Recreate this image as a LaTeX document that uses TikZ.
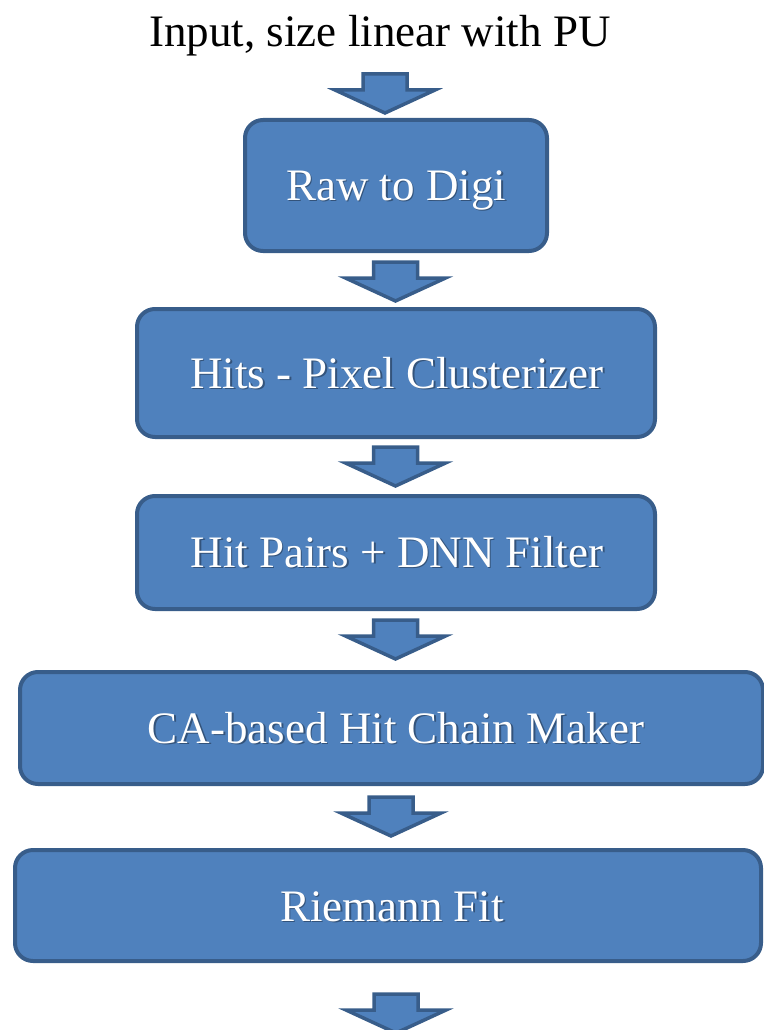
\documentclass[tikz,border=0pt]{standalone}
\usepackage{fontspec}
\setmainfont{Liberation Serif}
\usetikzlibrary{calc}

\definecolor{boxfill}{HTML}{4F81BD}
\definecolor{boxline}{HTML}{385D8A}

\tikzset{
  stage/.style={draw=boxline, fill=boxfill, line width=4pt, rounded corners=18pt,
    inner sep=0pt},
  bigfont/.style={font=\fontsize{45pt}{54pt}\selectfont},
  stagetext/.style={bigfont, text=white, anchor=base, inner sep=0pt},
  stageshadow/.style={bigfont, text=black, opacity=0.35, anchor=base, inner sep=0pt},
  arrowline/.style={draw=boxline, fill=boxfill, line width=3.5pt, line join=miter},
  blockdown/.pic={
    \draw[arrowline] (-22,0) -- (22,0) -- (22,16) -- (50,16) -- (0,39)
      -- (-50,16) -- (-22,16) -- cycle;
  },
}

% white caption with a soft drop shadow
\newcommand\stagelabel[4]{%
  \node[stageshadow] (#1-sh) at (#2+1.6,#3+1.6) {#4};
  \node[stagetext] (#1) at (#2,#3) {#4};
}

\begin{document}
\begin{tikzpicture}[x=1pt,y=-1pt]
\useasboundingbox (0,0) rectangle (763,1030);

% heading
\node[bigfont, anchor=base, inner sep=0pt] (title) at (380,47) {Input, size linear with PU};

% processing stages
\node[stage, minimum width=302pt, minimum height=131pt] (b1) at (396,185.5) {};
\node[stage, minimum width=518pt, minimum height=128pt] (b2) at (396,373) {};
\node[stage, minimum width=518pt, minimum height=113pt] (b3) at (396,552.5) {};
\node[stage, minimum width=743pt, minimum height=112pt] (b4) at (391.5,728) {};
\node[stage, minimum width=746pt, minimum height=111pt] (b5) at (388,905.5) {};

\stagelabel{t1}{396}{200}{Raw to Digi}
\stagelabel{t2}{397}{388}{Hits - Pixel Clusterizer}
\stagelabel{t3}{397}{567}{Hit Pairs + DNN Filter}
\stagelabel{t4}{396}{743}{CA-based Hit Chain Maker}
\stagelabel{t5}{392}{921}{Riemann Fit}

% block arrows between the stages
\coordinate (a1) at (385,74);
\coordinate (a2) at (395.5,262);
\coordinate (a3) at (395.5,447);
\coordinate (a4) at (395.5,620);
\coordinate (a5) at (391,797);
\coordinate (a6) at (396,994);
\foreach \a in {a1,a2,a3,a4,a5,a6} {
  \pic at (\a) {blockdown};
}
\end{tikzpicture}
\end{document}
